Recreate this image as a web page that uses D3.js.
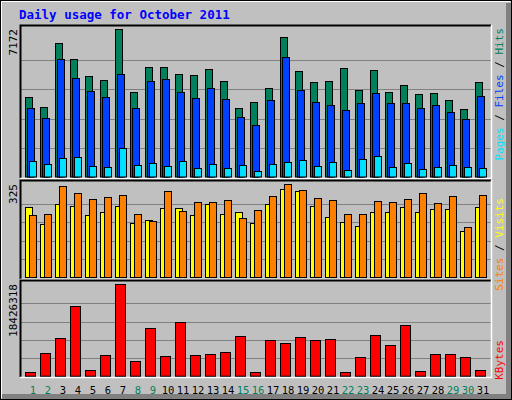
<!DOCTYPE html>
<html><head><meta charset="utf-8">
<script src="https://cdn.jsdelivr.net/npm/d3@7"></script>
<style>body{margin:0;background:#fff}</style>
</head><body><div id="chart"></div>
<script>
var days = d3.range(1, 32);
var weekend = [1, 2, 8, 9, 15, 16, 22, 23, 29, 30];
var hits  = [3869,3381,6474,5723,4864,4669,7172,4132,5303,5303,4962,4913,5206,4620,3352,3645,4279,6767,5108,4572,4620,5255,4230,5157,4132,4425,4035,4084,3742,3303,4572];
var files = [3352,2864,5694,4767,4181,3889,4962,3352,4620,4718,4132,3840,4279,3791,2913,2522,3742,5791,4230,3645,3498,3254,3596,4084,3596,3596,3352,3498,3157,2815,3937];
var pages = [766,620,912,961,522,473,1400,571,668,522,766,424,620,424,571,278,620,717,815,522,717,327,864,1010,473,668,376,473,571,473,424];
var visits = [244,185,255,248,216,227,248,188,199,241,241,216,255,220,227,188,255,307,300,248,209,192,178,227,227,244,227,237,237,160,244];
var sites  = [216,220,318,293,272,279,286,220,195,300,230,262,262,269,206,234,283,325,304,276,269,220,220,265,262,272,293,258,283,174,286];
var kbytes = [685000,4520000,7540000,13990000,1090000,4110000,18426318,2900000,9560000,3910000,10770000,4110000,4310000,4720000,7940000,685000,7140000,6530000,7740000,7140000,7340000,685000,3710000,8140000,6130000,10160000,887000,4310000,4310000,3710000,1090000];

var W = 512, H = 400;
var svg = d3.select('#chart').append('svg').attr('width', W).attr('height', H)
  .style('font-family', '"DejaVu Sans Mono", monospace');

// background with bevel
svg.append('rect').attr('width', W).attr('height', H).attr('fill', '#c0c0c0');
svg.append('rect').attr('x', 0.5).attr('y', 0.5).attr('width', W - 1).attr('height', H - 1)
  .attr('fill', 'none').attr('stroke', '#000');
svg.append('path').attr('d', 'M1.5,398.5V1.5H510.5').attr('stroke', '#fff').attr('stroke-width', 1).attr('fill', 'none');
svg.append('path').attr('d', 'M2,396.5H508.5V3').attr('stroke', '#808080').attr('stroke-width', 5).attr('fill', 'none');

svg.append('text').attr('x', 19).attr('y', 19).attr('fill', '#0000ff')
  .attr('font-weight', 'bold').attr('font-size', 12.5).text('Daily usage for October 2011');

var x = d3.scaleBand().domain(days).range([25, 490]).paddingInner(0).paddingOuter(0);
var L = 20, R = 491;

function panel(top, bottom, base, ymax, label, legend) {
  var y = d3.scaleLinear().domain([0, ymax]).range([base, top + 4]);
  var g = svg.append('g');
  var gridY = d3.range(1, 5).map(function(k) { return base - (base - top - 4) * k / 5 + 1; });
  g.selectAll('.grid').data(gridY).enter().append('line')
    .attr('x1', L).attr('x2', R).attr('y1', function(d) { return Math.round(d) + 0.5; })
    .attr('y2', function(d) { return Math.round(d) + 0.5; }).attr('stroke', '#808080');
  g.append('path').attr('d', 'M' + (L + 0.5) + ',' + bottom + 'V' + (top + 0.5) + 'H' + R)
    .attr('stroke', '#000').attr('stroke-width', 2).attr('fill', 'none');
  g.append('path').attr('d', 'M' + L + ',' + (bottom + 0.5) + 'H' + (R + 0.5) + 'V' + top)
    .attr('stroke', '#fff').attr('stroke-width', 1.5).attr('fill', 'none');
  svg.append('text').attr('transform', 'translate(17,' + (top + 4) + ') rotate(-90)')
    .attr('text-anchor', 'end').attr('font-size', 11).attr('fill', '#000').text(label);
  var lt = svg.append('text').attr('transform', 'translate(503,' + legend.y + ') rotate(-90)')
    .attr('font-size', 11).attr('text-anchor', 'end');
  legend.parts.forEach(function(p) { lt.append('tspan').attr('fill', p[1]).text(p[0]); });
  return { g: g, y: y };
}

function bars(p, data, color, off, w) {
  p.g.selectAll(null).data(data).enter().append('rect')
    .attr('x', function(d, i) { return x(days[i]) + off + 0.5; })
    .attr('y', function(d) { return Math.round(p.y(d)) + 0.5; })
    .attr('width', w).attr('height', function(d) { return Math.max(0, p.y(0) - Math.round(p.y(d))); })
    .attr('fill', color).attr('stroke', '#000');
}

var p1 = panel(25, 178, 176.5, 7172, '7172', { y: 28, parts: [['Pages', '#00e0ff'], [' / ', '#000'], ['Files', '#0040ff'], [' / ', '#000'], ['Hits', '#00805c']] });
bars(p1, hits, '#00805c', 0, 7);
bars(p1, files, '#0040ff', 2, 7);
bars(p1, pages, '#00e0ff', 4, 7);

var p2 = panel(180, 279, 277, 325, '325', { y: 198, parts: [['Sites', '#ff8000'], [' / ', '#000'], ['Visits', '#ffff00']] });
bars(p2, visits, '#ffff00', 0, 7);
bars(p2, sites, '#ff8000', 4, 7);

var p3 = panel(280, 377, 375.7, 18426318, '18426318', { y: 340, parts: [['KBytes', '#ff0000']] });
bars(p3, kbytes, '#ff0000', 0, 10);

svg.selectAll('.day').data(days).enter().append('text')
  .attr('x', function(d) { return x(d) + 8; }).attr('y', 394)
  .attr('text-anchor', 'middle').attr('font-size', 10.5)
  .attr('fill', function(d) { return weekend.indexOf(d) >= 0 ? '#00805c' : '#000'; })
  .text(function(d) { return d; });
</script></body></html>
